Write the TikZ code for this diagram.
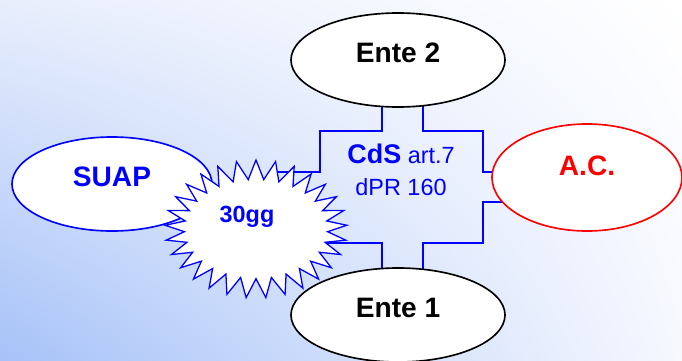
\documentclass[tikz,border=0pt]{standalone}
\usepackage{fontspec}
\setmainfont{Liberation Sans}
\usetikzlibrary{shapes.geometric,shapes.symbols,shadings}
\definecolor{cdsblue}{HTML}{0000FF}
\definecolor{acred}{HTML}{FF0000}
\definecolor{bgblue}{HTML}{A6C2F8}
\definecolor{bgtl}{HTML}{E8EEFC}
\definecolor{bgbr}{HTML}{F6F8FE}
\tikzset{
  entebox/.style={
    ellipse, draw=#1, fill=white, line width=1.4pt,
    minimum width=6.42cm, minimum height=2.82cm, inner sep=0pt,
    font=\fontsize{24}{28}\selectfont\bfseries, text=#1,
    text depth=0.42cm
  },
  entebox/.default=black,
  burstbox/.style={
    starburst, draw=cdsblue, fill=white, line width=1.1pt,
    starburst points=29, starburst point height=0.58cm,
    random starburst=0, inner sep=0pt,
    minimum width=5.46cm, minimum height=4.14cm,
    font=\fontsize{20}{24}\selectfont\bfseries, text=cdsblue,
    text depth=0.9cm
  },
  crossline/.style={
    draw=cdsblue, line width=1.4pt
  },
  cdslabel/.style={
    font=\fontsize{20}{27}\selectfont, text=cdsblue, align=center
  },
}
\begin{document}
\begin{tikzpicture}[x=0.03cm, y=-0.03cm]
  \useasboundingbox (0,0) rectangle (682,360);
  \shade[upper left=bgtl, upper right=white, lower left=bgblue,
    lower right=bgbr] (0,0) rectangle (682,360);
  \draw[crossline] (382,100) -- (382,131) -- (320,131) -- (320,172)
    -- (270,172) -- (270,202) -- (320,202) -- (320,243) -- (382,243)
    -- (382,285) -- (423,285) -- (423,243) -- (483,243) -- (483,202)
    -- (510,202) -- (510,172) -- (483,172) -- (483,131) -- (423,131)
    -- (423,100) -- cycle;
  \node[entebox=cdsblue, minimum width=6cm] (suap) at (112,184) {SUAP};
  \node[burstbox] (gg) at (256,229) {30gg\hspace*{0.54cm}};
  \node[entebox] (ente2) at (398,60) {Ente 2};
  \node[entebox] (ente1) at (398,315) {Ente 1};
  \node[entebox=acred, minimum width=5.7cm, minimum height=3.21cm,
    text depth=0.72cm] (ac) at (587,177.5) {A.C.};
  \node[cdslabel] (cds) at (401,170)
    {{\fontsize{23}{27}\selectfont\bfseries CdS} art.7\\dPR 160};
\end{tikzpicture}
\end{document}
